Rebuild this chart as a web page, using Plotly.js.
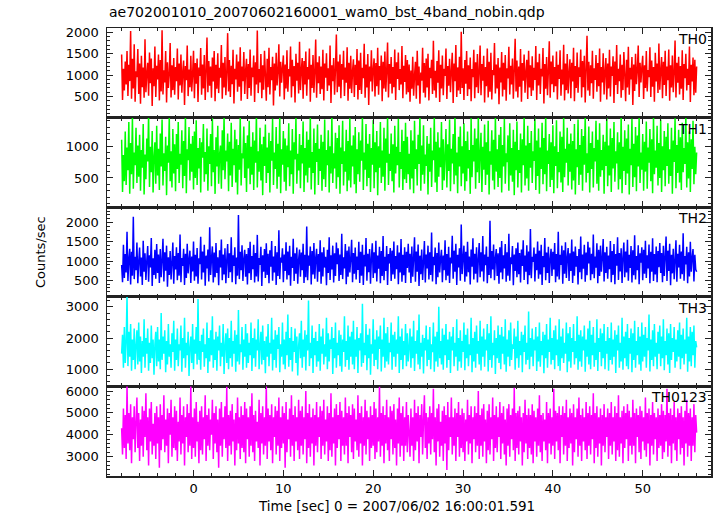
<!DOCTYPE html>
<html>
<head>
<meta charset="utf-8">
<script src="https://cdn.plot.ly/plotly-3.0.1.min.js"></script>
<style>html,body{margin:0;padding:0;background:#fff;}#chart{width:717px;height:516px;}</style>
</head>
<body>
<div id="chart"></div>
<script>
// ---- data ----
const chartTitle = "ae702001010_20070602160001_wam0_bst_4band_nobin.qdp";
const xTitle = "Time [sec] 0 = 2007/06/02 16:00:01.591";
const yTitle = "Counts/sec";
const bandNames = ["TH0", "TH1", "TH2", "TH3", "TH0123"];
const tStart = -8;      // first bin time [sec]
const binSize = 0.1;    // bin width [sec]

const th0 = [
1480,420,1150,640,1320,780,1560,510,1240,860,2030,450,1380,690,1720,380,1090,950,1610,560,
1270,330,1450,720,1180,470,1840,600,1030,1290,520,1530,810,1390,280,1160,740,1670,490,1220,
900,1480,410,1350,620,2050,550,1110,830,1560,360,1300,700,1020,1750,480,1230,650,1400,540,
1190,860,1620,430,1270,760,1480,590,1080,1340,300,1210,880,1690,510,1130,720,1450,620,1020,
1570,460,1280,800,1390,370,1180,980,1630,540,1250,690,1470,420,1100,1880,600,1330,750,1200,
470,1410,850,1560,390,1240,680,1510,580,1170,940,1700,450,1290,710,1420,530,1060,1980,620,
1350,490,1220,790,1590,340,1150,900,1480,610,1320,730,1650,400,1200,860,1540,560,1110,1380,
440,1260,700,1600,520,1180,950,1460,370,1300,780,2040,580,1140,830,1490,460,1230,660,1570,
1010,400,1380,720,1640,550,1190,880,1430,290,1270,640,1520,760,1090,1720,500,1310,820,1170,
1460,430,1250,690,1580,610,1140,970,1670,480,1360,740,1210,360,1500,870,1290,570,1780,650,
1120,1400,450,1330,780,1550,520,1190,900,1620,380,1240,700,1470,590,1080,1830,470,1300,810,
1440,560,1200,670,1590,410,1270,940,1510,630,1160,760,1690,350,1230,860,1400,540,1150,1950,
600,1320,730,1480,460,1260,890,1570,510,1180,820,1650,400,1290,680,1450,580,1100,1370,490,
1240,770,1610,430,1340,650,1520,560,1170,930,1730,470,1250,710,1490,300,1200,850,1580,620,
1130,1390,500,1280,740,1640,540,1210,880,1460,390,1310,690,1550,610,1090,1760,480,1260,800,
1420,570,1190,720,1600,420,1300,910,1530,650,1140,780,1680,460,1220,840,1470,550,1350,600,
1250,380,1110,680,1430,520,990,1310,450,1570,760,1200,330,1060,870,1640,590,1280,480,1390,
710,1500,410,1170,930,1360,560,1800,640,1100,470,1330,820,1580,370,1240,690,1460,530,1150,
980,1620,440,1210,750,1380,600,1090,1520,350,1270,860,1700,490,1180,640,1430,560,2010,700,
1160,420,1350,800,1560,510,1230,670,1410,390,1140,950,1590,460,1300,720,1490,580,1080,1690,
530,1260,870,1450,360,1190,740,1620,480,1310,610,1520,430,1120,1000,1750,570,1250,690,1400,
320,1180,830,1540,500,1290,660,1470,400,1160,920,1660,550,1220,780,1390,450,1130,1850,620,
1340,480,1200,730,1610,380,1280,870,1480,590,1070,1360,440,1570,710,1230,510,1440,640,1170,
890,1680,420,1300,760,1500,560,1150,970,1630,340,1260,680,1420,530,1110,1790,470,1320,790,
1460,600,1190,740,1550,430,1240,910,1580,520,1130,780,1710,410,1270,650,1490,570,1060,1370,
460,1290,850,1640,390,1210,700,1530,590,1180,960,1600,480,1330,720,1450,360,1140,1920,640,
1310,520,1230,810,1570,450,1160,890,1470,610,1280,740,1620,380,1190,830,1510,550,1090,1400,
430,1270,690,1590,500,1200,980,1440,350,1320,770,1700,560,1150,860,1480,470,1240,650,1540,
1020,390,1360,710,1660,540,1170,900,1420,300,1250,630,1500,790,1100,1690,490,1290,830,1180,
1450,440,1230,700,1560,620,1120,950,1650,490,1340,730,1190,380,1520,850,1270,580,1740,660,
1100,1420,460,1310,770,1570,510,1200,880,1600,400,1230,710,1460,600,1070,1810,480,1290,820,
1430,550,1210,680,1580,420,1260,930,1500,640,1150,770,1670,370,1240,850,1410,530,1360,590,
1200];

const th1 = [
1100,280,860,450,1230,390,980,620,1380,250,1050,560,1470,330,900,700,1290,420,1010,520,
1180,300,940,660,1350,240,870,480,1120,760,1500,360,990,590,1240,270,830,1060,410,1320,
540,960,310,1200,680,1420,380,890,610,1150,230,1010,740,1460,450,920,350,1270,570,1030,
290,1190,640,1380,420,880,710,1250,340,1080,530,1490,260,950,780,1300,460,1040,600,1160,
320,1230,500,1410,390,970,650,1130,270,1060,820,1350,440,910,560,1280,300,1000,720,1190,
370,1440,590,940,250,1140,680,1320,410,870,1010,330,1250,620,1480,480,930,760,1200,290,
1070,540,1370,360,960,700,1260,430,1110,240,1020,630,1460,380,890,810,1310,500,1050,280,
1170,650,1400,400,990,550,1220,310,1090,740,1500,350,920,600,1290,460,1030,230,1150,690,
1340,420,980,580,1210,270,1080,770,1430,390,900,640,1300,330,1040,520,1480,260,950,710,
1240,440,1120,300,1010,670,1360,370,930,560,1270,250,1060,790,1450,410,880,620,1190,340,
1020,730,1390,280,970,540,1230,430,1100,660,1470,320,910,580,1280,240,1050,750,1340,390,
960,610,1180,300,1070,480,1420,360,940,700,1250,270,1000,570,1490,420,890,650,1210,330,
1130,510,1330,250,980,720,1400,380,920,600,1260,290,1080,460,1440,350,1010,680,1170,400,
1300,260,950,560,1220,440,1090,770,1460,310,900,630,1350,370,1040,500,1190,280,970,710,
1410,340,1060,590,1240,230,1000,660,1380,420,930,520,1290,300,1120,740,1470,390,880,610,
1200,450,1030,270,1320,570,990,700,1430,350,910,640,1260,310,1080,480,1370,420,1150,560,
880,320,1250,490,1090,260,1400,640,950,380,1180,720,1500,300,1010,550,1330,410,870,690,
1160,240,1040,600,1290,360,930,780,1450,430,1070,280,1220,520,980,670,1380,310,1110,460,
840,1270,350,1030,610,1420,290,960,730,1190,400,1490,540,900,260,1150,680,1310,370,1000,
570,1360,300,1080,450,1230,650,940,250,1440,510,1020,760,1280,330,1120,590,1470,420,870,
1210,280,990,630,1340,390,1060,550,1400,240,920,710,1250,460,1100,320,1480,600,950,360,
1180,500,1300,270,1020,680,1430,410,890,750,1170,300,1360,540,970,440,1260,230,1070,620,
1390,350,940,580,1200,270,1110,700,1460,380,1010,490,1320,300,1050,660,1240,420,920,770,
1440,310,1090,530,1280,250,980,640,1370,400,1130,560,1500,290,930,720,1190,360,1060,470,
1330,260,1000,690,1410,340,910,590,1230,430,1150,280,1470,510,960,740,1290,380,1040,600,
1200,320,1080,460,1350,240,950,670,1420,390,1020,550,1270,300,1160,710,1490,430,890,580,
1310,270,1050,640,1230,350,970,760,1400,410,1100,300,1360,520,940,620,1180,250,1070,690,
1450,370,1010,540,1280,280,1130,650,1380,440,920,730,1220,320,1060,480,1500,260,990,610,
1250,390,1120,570,1340,240,960,700,1430,360,1040,510,1300,290,1170,680,1460,420,900,630,
1190,300,1070,600,1390,330,980,740,1270,450,1110,260,1480,560,930,660,1320,380,1050,500,
1420,280,1000,620,1240,370,1150,690,1360,410,950,530,1290,250,1090,750,1440,340,1020,580,
1260,430,1140,310,1370,590,970,720,1480,350,1060,490,1230,280,1110,640,1400,400,990,560,
900];

const th2 = [
900,450,1420,560,1180,700,1760,480,1050,1320,390,1240,620,2150,530,1110,760,1480,420,980,
1350,600,1090,380,1530,720,1200,510,1010,1390,460,1150,830,1600,350,1070,640,1290,540,1440,
690,1170,430,1310,580,1020,1580,470,1230,750,1400,330,1100,640,1260,520,950,1480,410,1130,
780,1360,500,1210,620,1690,450,1080,870,1320,380,1190,560,1450,680,1040,1270,430,1120,730,
1510,490,1160,600,1340,410,1070,920,1630,520,1250,700,1420,360,1140,810,1300,470,1880,640,
1060,1380,440,1220,580,1470,690,1100,370,1280,830,1560,500,1170,650,1330,420,1020,1440,560,
1200,710,1620,450,1150,870,1360,400,1090,620,2200,530,1240,760,1410,480,1060,1290,590,1180,
390,1340,680,1500,510,1130,790,1420,440,1210,600,1680,470,1080,900,1370,350,1150,720,1310,
560,1460,640,1190,420,1280,850,1520,490,1120,700,1390,380,1230,610,1800,530,1090,960,1330,
450,1170,740,1490,520,1250,630,1400,360,1110,820,1580,480,1200,670,1350,410,1040,1300,590,
1220,760,1450,430,1160,580,1900,500,1140,880,1380,390,1260,650,1470,540,1070,1320,460,1180,
720,1540,410,1230,600,1360,830,1110,370,1290,690,1620,510,1150,780,1400,440,1200,610,1480,
920,1330,480,1170,640,1710,530,1100,810,1440,400,1270,590,1380,700,1060,1550,450,1210,670,
1350,520,1120,770,1500,430,1240,620,1420,380,1160,860,1600,490,1190,710,1310,410,1080,1460,
560,1230,680,1530,470,1140,800,1370,420,1260,610,1650,500,1110,740,1390,380,1180,940,1340,
480,1270,650,1510,540,1130,790,1410,400,1220,700,1570,460,1160,630,1360,430,1240,820,1450,
700,1190,430,1380,590,1080,1620,460,1250,720,1430,350,1140,660,1300,510,990,1520,440,1170,
810,1400,520,1230,640,1740,470,1110,890,1350,400,1210,580,1480,700,1070,1290,450,1140,760,
1540,500,1180,620,1370,430,1090,940,1660,540,1270,720,1450,380,1160,830,1330,490,1950,660,
1080,1400,460,1240,600,1500,710,1120,390,1300,850,1590,520,1190,670,1360,440,1050,1470,580,
1230,730,1650,470,1170,890,1380,420,1110,640,2050,550,1260,780,1430,500,1080,1310,610,1200,
410,1360,700,1520,530,1150,810,1440,460,1230,620,1710,490,1100,920,1390,370,1170,740,1330,
580,1480,660,1210,440,1300,870,1540,510,1140,720,1410,400,1250,630,1830,550,1110,980,1350,
470,1190,760,1510,540,1270,650,1420,380,1130,840,1600,500,1220,690,1370,430,1060,1320,610,
1240,780,1470,450,1180,600,1760,520,1160,900,1400,410,1280,670,1490,560,1090,1340,480,1200,
740,1560,430,1250,620,1380,850,1130,390,1310,710,1640,530,1170,800,1420,460,1220,630,1500,
940,1350,500,1190,660,1690,550,1120,830,1460,420,1290,610,1400,720,1080,1570,470,1230,690,
1370,540,1140,790,1520,450,1260,640,1440,400,1180,880,1620,510,1210,730,1330,430,1100,1480,
580,1250,700,1550,490,1160,820,1390,440,1280,630,1670,520,1130,760,1410,400,1200,960,1360,
500,1290,670,1530,560,1150,810,1430,420,1240,720,1590,480,1180,650,1380,450,1260,840,1470,
690,1210,450,1400,610,1100,1640,480,1270,740,1450,370,1160,680,1320,530,1010,1540,460,1190,
830,1420,540,1250,660,1720,490,1130,910,1370,420,1230,600,1500,720,1090,1310,470,1160,780,
720];

const th3 = [
1500,2100,1050,2350,1200,1850,3350,1100,2200,1400,2450,950,1950,1300,2300,1000,1750,2250,1150,2500,
1250,2050,880,1900,1400,2600,1050,2000,1500,2300,950,1850,1200,2400,1350,1950,820,1800,2200,1100,
2350,1250,1950,1000,2800,1300,2050,1500,2250,900,1900,1150,2450,1400,1800,1050,2150,1550,2550,950,
1950,1300,2300,1100,1800,1600,2400,920,2000,1350,2650,1050,1850,1450,2200,780,1700,2050,1200,2450,
1000,1950,1500,2350,1150,3250,1300,1900,980,2100,1550,2300,1080,1800,1350,2500,880,2000,1250,2250,
1450,2700,1050,1950,1300,2200,950,2050,1600,2400,1100,1850,1400,2450,850,1750,2150,1200,2300,1000,
2000,1350,2550,1080,1900,1500,2250,920,2100,1250,2900,1150,1800,1550,2350,980,1950,1400,2450,1050,
2150,1200,1850,1450,2500,940,2000,1350,2300,1080,1950,1600,2600,1000,1750,2200,1150,2400,1300,1900,
870,2050,1400,2450,1100,1850,1500,2650,960,1950,1300,2250,1050,2100,1650,2350,900,1800,1400,2500,
1150,1950,1000,2200,1450,2750,1080,2000,1300,2350,930,1900,1550,2300,1200,2050,800,1750,2150,1350,
2550,1050,1950,1400,2250,960,2100,1600,3200,1100,1850,1350,2400,880,2000,1450,2200,1080,1900,1250,
2450,950,2050,1500,2300,1150,1800,1400,2650,1000,2150,1250,1950,1650,2350,850,2000,1350,2500,1050,
1850,1450,2250,1100,2100,920,1950,1550,2700,1080,1900,1300,2400,980,2050,1400,2200,1150,2550,1000,
1950,1400,2350,880,2000,1600,2150,1080,3100,1200,1850,1450,2450,970,2100,1350,2300,820,1800,1500,
2600,1100,1950,1300,2250,1000,2050,1650,2400,930,1950,1400,2650,1050,2150,1250,2350,1150,1850,1550,
2500,980,2100,1400,2200,1080,1950,1500,2700,880,2050,1300,2300,1000,1900,1450,2450,1100,2150,1250,
1700,2300,1050,2050,1350,2550,940,1900,1500,2250,1150,2750,1000,1850,1400,2100,860,2000,1600,2400,
1100,1950,1300,2350,1000,1800,1550,2500,920,2050,1250,2200,1080,3000,1350,1900,1150,2300,980,2100,
1450,2450,1050,1950,1300,2200,880,2050,1600,2350,1100,1850,1400,2600,950,2000,1250,2250,1050,1900,
1550,2500,970,2100,1350,2300,1100,1800,1450,2650,900,2000,1250,2200,1050,2400,1500,1900,1150,2550,
960,2050,1400,2300,1080,1950,1600,2450,930,2150,1300,2700,1050,1850,1450,2250,850,2000,1350,2400,
1200,2100,1000,2350,1500,2050,1150,2600,920,1950,1400,2250,1100,2500,1300,1800,1650,2300,980,2050,
1350,2550,1050,1900,1450,2200,900,2100,1550,2400,1150,1850,1300,2850,1000,2000,1400,2300,1100,1950,
1600,2350,940,2050,1250,2500,1080,1900,1450,2200,870,2100,1350,2450,1050,1950,1550,2650,1150,2000,
1300,2250,1000,2400,1450,1950,1100,2600,950,2050,1350,2300,1200,1850,1500,2500,900,2150,1250,2350,
1050,2000,1550,2450,1150,1900,1350,2700,980,2100,1250,2250,1080,2050,1600,2400,920,1950,1400,2300,
1150,2550,1000,2100,1450,2350,1080,1850,1300,2600,940,2000,1550,2300,1100,2150,1350,2450,1000,1900,
1500,2350,950,2000,1300,2500,1150,1950,1400,2250,880,2100,1600,2400,1050,1850,1250,2650,980,2050,
1350,2200,1100,2450,1000,2000,1500,2300,900,2150,1300,2550,1050,1900,1450,2350,1150,2050,950,2500,
1250,2100,1400,2350,1050,2000,1600,2750,930,1950,1300,2250,1100,2450,1400,1850,1000,2200,1500,2400,
1100,2050,1350,2600,970,1900,1450,2300,1150,2150,880,2450,1300,2000,1550,2350,1050,1950,1250,2250,
1400,2500,1000,2100,1350,2300,1150,1950,1500,2650,920,2050,1250,2350,1100,2200,1450,2400,1050,1900,
1700];

const th0123 = [
4300,3100,5200,3400,4900,2900,6300,3600,5000,3300,5400,2700,4800,3800,5300,3200,4600,5700,3400,5000,
2800,4700,3500,5300,3000,5100,3900,5900,3300,4800,2600,5200,3700,5500,3100,4500,3500,5000,2900,5300,
3600,4800,2500,5400,3300,4900,3800,5800,3200,4700,3500,5200,2700,5000,4000,5600,3000,4800,3400,5300,
3300,5100,2800,4600,3700,5700,3100,4900,3600,5300,2600,4800,3900,5400,3200,5000,3500,6250,2900,4800,
3400,5200,3000,5500,3700,4600,2700,5100,3300,5300,3100,4800,3800,5800,2800,4900,3500,5200,3300,4700,
4000,5600,2900,5000,3600,5300,3200,4700,2500,5200,3500,5500,3000,4800,3800,5300,3400,6200,2800,4900,
3500,5100,3100,5400,3700,4700,2600,5000,3300,5700,3600,4800,2900,5300,3400,4900,3200,5500,2700,5200,
3800,4800,3000,5300,3500,5900,3200,4900,2800,5100,3700,4600,3400,5600,2600,5000,3600,5300,3100,4800,
3500,6300,2900,5200,3700,4900,3300,5400,2700,4800,3900,5300,3100,5100,3500,5700,2800,4800,3400,5300,
3600,5000,2500,5500,3200,4700,3800,5200,3000,5800,3500,4900,2800,5300,3700,4800,3300,5600,2900,5100,
3500,5300,3100,4800,3800,6000,2700,5000,3400,5400,3000,4800,3600,5200,2600,4900,3500,5500,3200,4800,
3900,5300,2900,5100,3500,5600,3100,4700,3700,5300,2800,5000,3300,5900,3000,4800,3600,5200,2600,5400,
3400,4900,3800,5500,2800,5100,3500,4800,3100,5700,3500,5000,2700,5300,3900,4900,3200,5400,2900,5200,
3700,4700,3300,5800,3000,5000,3600,5300,2600,4800,3500,5600,3100,5100,3800,4800,2800,5300,3400,4900,
3500,5500,2900,5200,3200,4800,3700,6200,3000,5000,3500,5300,2700,4900,3600,5600,3300,4800,2800,5300,
3800,5100,3100,5400,3400,4700,2600,5200,3600,5700,3000,5000,3500,5300,2800,4800,3500,5500,3200,4900,
4100,3000,5200,3500,4800,2800,5600,3300,5000,3700,5300,2700,4900,3900,5400,3100,4700,5800,3400,5000,
2900,4800,3600,5300,3100,5000,3800,6100,3200,4800,2600,5200,3700,5400,3000,4600,3500,5100,2800,5300,
3600,4900,2400,5500,3300,4800,3900,5700,3100,4800,3500,5200,2800,5000,3900,5500,3000,4900,3400,5200,
3200,5000,2800,4700,3700,5600,3100,4900,3600,5300,2700,4800,3800,5300,3200,5000,3500,6000,2900,4900,
3500,5200,3000,5400,3700,4700,2700,5100,3300,5400,3100,4800,3800,5700,2800,4900,3400,5300,3200,4800,
3900,5500,2900,5000,3600,5300,3100,4700,2600,5200,3500,5400,3000,4900,3800,5200,3300,6150,2800,5000,
3400,5100,3100,5300,3700,4800,2600,5000,3200,5600,3600,4900,2900,5200,3400,4900,3100,5400,2700,5100,
3700,4800,3000,5200,3500,5800,3200,4900,2800,5000,3700,4700,3300,5500,2700,5000,3600,5200,3100,4800,
3500,6100,2900,5100,3700,5000,3300,5300,2700,4900,3900,5300,3100,5000,3500,5600,2800,4800,3400,5200,
3600,5000,2600,5400,3200,4800,3800,5200,3000,5700,3500,4900,2800,5200,3700,4800,3300,5500,2900,5000,
3500,5300,3100,4900,3800,5900,2700,5000,3400,5300,3000,4800,3600,5200,2600,4900,3500,5400,3200,4800,
3900,5200,2900,5000,3500,5500,3100,4800,3700,5300,2800,5000,3300,5800,3000,4800,3600,5100,2700,5300,
3400,5000,3800,5400,2800,5100,3500,4800,3100,5600,3500,5000,2700,5200,3900,4900,3200,5300,2900,5100,
3700,4800,3300,5700,3000,5000,3600,5200,2600,4900,3500,5500,3100,5000,3800,4800,2800,5200,3400,4900,
3500,5400,2900,5100,3200,4900,3700,6100,3000,5000,3500,5200,2700,4900,3600,5500,3300,4800,2800,5200,
3800,5000,3100,5300,3400,4800,2600,5100,3600,5600,3000,5000,3500,5200,2800,4800,3500,5400,3200,4900,
4100];

const seriesValues = [th0, th1, th2, th3, th0123];
const seriesColors = ["#ff0000", "#00ff00", "#0000ff", "#00ffff", "#ff00ff"];
const yRanges = [[8, 2100], [40, 1450], [70, 2400], [450, 3320], [2120, 6210]];
const yMajor = [500, 500, 500, 1000, 1000];
const yMinor = [100, 100, 100, 200, 200];
const xRange = [-9.63, 57.6];

// ---- build ----
const font = "DejaVu Sans, Liberation Sans, sans-serif";
const axisColor = "#222";
const nPanels = seriesValues.length;
const traces = [];
const layout = {
  width: 717, height: 516,
  margin: {l: 107, r: 6, t: 28, b: 40},
  paper_bgcolor: "#fff", plot_bgcolor: "#fff",
  showlegend: false,
  font: {family: font, size: 13, color: "#000"},
  annotations: []
};

seriesValues.forEach((vals, i) => {
  const times = vals.map((_, k) => tStart + k * binSize);
  const xa = i === 0 ? "x" : "x" + (i + 1);
  const ya = i === 0 ? "y" : "y" + (i + 1);
  traces.push({
    type: "scatter", mode: "lines", x: times, y: vals,
    xaxis: xa, yaxis: ya,
    line: {color: seriesColors[i], width: 1.5, simplify: false},
    hoverinfo: "skip"
  });
  const top = 1 - i / nPanels, bot = 1 - (i + 1) / nPanels;
  const isBottom = i === nPanels - 1;
  const xKey = i === 0 ? "xaxis" : "xaxis" + (i + 1);
  const yKey = i === 0 ? "yaxis" : "yaxis" + (i + 1);
  layout[xKey] = {
    anchor: ya, range: xRange, showgrid: false, zeroline: false,
    showline: true, linecolor: axisColor, linewidth: 1.5, mirror: "ticks",
    ticks: "inside", ticklen: 6, tickwidth: 1, tickcolor: axisColor,
    dtick: 10, tick0: 0,
    minor: {dtick: 2, ticks: "inside", ticklen: 3, tickcolor: axisColor, showgrid: false},
    showticklabels: isBottom,
    tickfont: {family: font, size: 13, color: "#000"},
    ticklabelstandoff: 0,
    fixedrange: true
  };
  if (i > 0) layout[xKey].matches = "x";
  layout[yKey] = {
    domain: [bot, top], anchor: xa, range: yRanges[i],
    showgrid: false, zeroline: false,
    showline: true, linecolor: axisColor, linewidth: 1.5, mirror: "ticks",
    ticks: "inside", ticklen: 6, tickwidth: 1, tickcolor: axisColor,
    dtick: yMajor[i], tick0: 0,
    minor: {dtick: yMinor[i], ticks: "inside", ticklen: 3, tickcolor: axisColor, showgrid: false},
    tickfont: {family: font, size: 13, color: "#000"},
    ticklabelstandoff: 4,
    fixedrange: true
  };
  layout.annotations.push({
    text: bandNames[i], xref: "paper", yref: "paper", x: 1, y: top,
    xanchor: "right", yanchor: "top", xshift: -2, yshift: -1, showarrow: false,
    font: {family: font, size: 14, color: "#000"}
  });
});

// chart title (top-left), axis titles
layout.annotations.push({
  text: chartTitle, xref: "paper", yref: "paper", x: 0, y: 1,
  xanchor: "left", yanchor: "middle", yshift: 16, showarrow: false,
  font: {family: font, size: 14, color: "#000"}
});
layout.annotations.push({
  text: xTitle, xref: "paper", yref: "paper", x: 0.48, y: 0,
  xanchor: "center", yanchor: "middle", yshift: -30, showarrow: false,
  font: {family: font, size: 13.5, color: "#000"}
});
layout.annotations.push({
  text: yTitle, xref: "paper", yref: "paper", x: 0, y: 0.5,
  xanchor: "center", yanchor: "middle", xshift: -67, showarrow: false, textangle: -90,
  font: {family: font, size: 13, color: "#000"}
});

Plotly.newPlot("chart", traces, layout, {displayModeBar: false, staticPlot: true});
</script>
</body>
</html>
